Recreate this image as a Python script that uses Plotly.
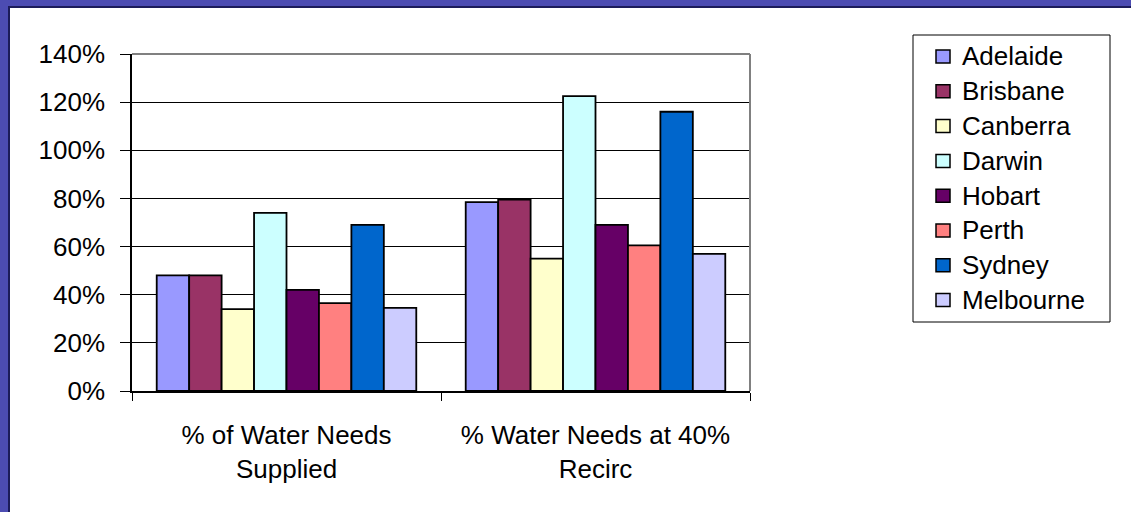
import plotly.graph_objects as go

# Chart data
categories = ["% of Water Needs<br>Supplied", "% Water Needs at 40%<br>Recirc"]
cities = ["Adelaide", "Brisbane", "Canberra", "Darwin", "Hobart", "Perth", "Sydney", "Melbourne"]
adelaide = [48, 78.5]
brisbane = [48, 79.5]
canberra = [34, 55]
darwin = [74, 122.5]
hobart = [42, 69]
perth = [36.5, 60.5]
sydney = [69, 116]
melbourne = [34.5, 57]
series_values = [adelaide, brisbane, canberra, darwin, hobart, perth, sydney, melbourne]
colors = ["#9999FF", "#993366", "#FFFFCC", "#CCFFFF", "#660066", "#FF8080", "#0066CC", "#CCCCFF"]
y_ticks = [0, 20, 40, 60, 80, 100, 120, 140]
y_tick_text = [f"{v}%" for v in y_ticks]

FONT = "Arial, Liberation Sans, sans-serif"
FS = 26
W, H = 1131, 512
L, R, T, B = 132, 381, 54, 121

fig = go.Figure()
for name, vals, col in zip(cities, series_values, colors):
    fig.add_trace(go.Bar(
        x=categories, y=vals, name=name,
        marker=dict(color=col, line=dict(color="#000000", width=1.8)),
    ))

pw = W - L - R
ph = H - T - B


def px_x(v):
    return (v - L) / pw


def px_y(v):
    return (H - B - v) / ph


shapes = [
    # white slide panel on the blue backdrop
    dict(type="rect", xref="paper", yref="paper",
         x0=px_x(9), x1=px_x(W + 5), y0=px_y(7), y1=px_y(H + 5),
         fillcolor="#FFFFFF", line=dict(color="#1C1C5A", width=2), layer="below"),
    # plot-area frame (top and right edges)
    dict(type="line", xref="paper", yref="paper", x0=0, x1=1, y0=1, y1=1,
         line=dict(color="#808080", width=2), layer="above"),
    dict(type="line", xref="paper", yref="paper", x0=1, x1=1, y0=0, y1=1,
         line=dict(color="#808080", width=2), layer="above"),
    # legend frame
    dict(type="rect", xref="paper", yref="paper",
         x0=px_x(913), x1=px_x(1110), y0=px_y(35), y1=px_y(322),
         fillcolor="#FFFFFF", line=dict(color="#000000", width=1), layer="above"),
]

annotations = []
row0, row_step = 56.5, 34.8
for i, (name, col) in enumerate(zip(cities, colors)):
    cy = row0 + i * row_step
    shapes.append(dict(
        type="rect", xref="paper", yref="paper",
        x0=px_x(936), x1=px_x(950), y0=px_y(cy - 6.5), y1=px_y(cy + 6.5),
        fillcolor=col, line=dict(color="#000000", width=1.5), layer="above",
    ))
    annotations.append(dict(
        xref="paper", yref="paper", x=px_x(960), y=px_y(cy),
        xanchor="left", yanchor="middle", text=name, showarrow=False,
        font=dict(family=FONT, size=FS, color="#000000"),
    ))

fig.update_layout(
    width=W, height=H,
    margin=dict(l=L, r=R, t=T, b=B),
    paper_bgcolor="#4C4CB2",
    plot_bgcolor="#C0C0C0",
    barmode="group",
    bargap=0.16,
    bargroupgap=0,
    font=dict(family=FONT, color="#000000", size=FS),
    shapes=shapes,
    annotations=annotations,
    showlegend=False,
    xaxis=dict(
        type="category", showgrid=False, showline=True, linecolor="#000000", linewidth=1.5,
        ticks="outside", tickson="boundaries", ticklen=8, tickcolor="#000000",
        tickfont=dict(family=FONT, size=FS), ticklabelstandoff=20,
    ),
    yaxis=dict(
        range=[0, 140], tickvals=y_ticks, ticktext=y_tick_text,
        showgrid=True, gridcolor="#000000", gridwidth=1,
        showline=True, linecolor="#000000", linewidth=1.5,
        ticks="outside", ticklen=10, tickcolor="#000000",
        tickfont=dict(family=FONT, size=FS), ticklabelstandoff=10,
        zeroline=False,
    ),
)

fig.write_html("out.html")
